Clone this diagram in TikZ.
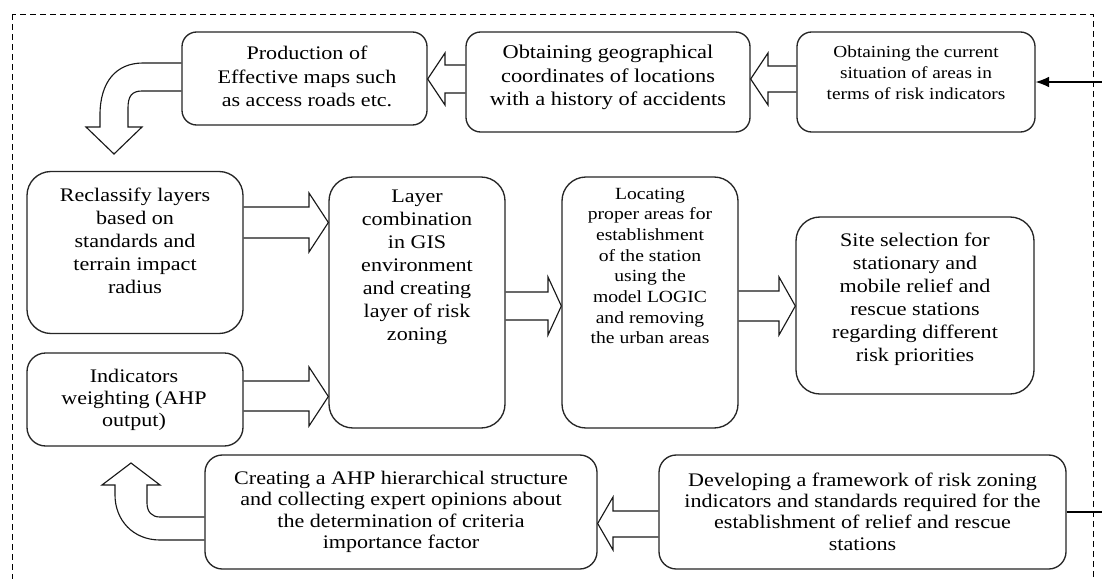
\documentclass[tikz,border=0pt]{standalone}
\usepackage{fontspec}
\setmainfont{Liberation Serif}[FakeStretch=1.15]
\usetikzlibrary{arrows.meta}
\begin{document}
\begin{tikzpicture}[x=0.75pt,y=-0.75pt,
  box/.style={draw=black!85, line width=1pt, rounded corners=#1, inner sep=0pt},
  box/.default=11pt,
  txt/.style={align=center, inner sep=0pt, font=\fontsize{14.4}{17.25}\selectfont},
  barrow/.style={draw=black!90, line width=0.85pt, line join=miter},
  conn/.style={draw=black, line width=0.8pt},
  border/.style={draw=black, line width=0.7pt, dash pattern=on 4.5pt off 3pt}
]
\fill[white] (0,0) rectangle (1102,578);
\useasboundingbox (0,0) rectangle (1102,578);
\draw[border] (12,14) rectangle (1093,600);

% boxes
\node[box, minimum width=183.75pt, minimum height=69.75pt] (prod) at (304.5,78.5) {};
\node[box, minimum width=213pt, minimum height=75pt] (geo) at (608,82) {};
\node[box, minimum width=178.5pt, minimum height=75pt] (cur) at (916,82) {};
\node[box=18pt, minimum width=162pt, minimum height=121.5pt] (recl) at (135,252.5) {};
\node[box=14pt, minimum width=162pt, minimum height=69.75pt] (ind) at (135,399.5) {};
\node[box=18pt, minimum width=132pt, minimum height=188.25pt] (layer) at (417,302.5) {};
\node[box=18pt, minimum width=132pt, minimum height=188.25pt] (loc) at (650,302.5) {};
\node[box=18pt, minimum width=178.5pt, minimum height=132.75pt] (site) at (915,305.5) {};
\node[box=13pt, minimum width=294pt, minimum height=85.5pt] (ahp) at (401,512) {};
\node[box=13pt, minimum width=305.25pt, minimum height=85.5pt] (dev) at (862.5,512) {};

% texts
\node[txt, font=\fontsize{14.4}{17.6}\selectfont] (tprod) at (307,76.5) {Production of\\Effective maps such\\as access roads etc.};
\node[txt, font=\fontsize{14.6}{17.6}\selectfont] (tgeo) at (608,77.5) {Obtaining geographical\\coordinates of locations\\with a history of accidents};
\node[txt, font=\fontsize{12.6}{15.75}\selectfont] (tcur) at (916,73) {Obtaining the current\\situation of areas in\\terms of risk indicators};
\node[txt] (trecl) at (135,241) {Reclassify layers\\based on\\standards and\\terrain impact\\radius};
\node[txt, font=\fontsize{14.4}{16.5}\selectfont] (tind) at (134,400) {Indicators\\weighting (AHP\\output)};
\node[txt] (tlayer) at (417,267.5) {Layer\\combination\\in GIS\\environment\\and creating\\layer of risk\\zoning};
\node[txt, font=\fontsize{12.8}{15.5}\selectfont] (tloc) at (650,266) {Locating\\proper areas for\\establishment\\of the station\\using the\\model LOGIC\\and removing\\the urban areas};
\node[txt] (tsite) at (915,299.5) {Site selection for\\stationary and\\mobile relief and\\rescue stations\\regarding different\\risk priorities};
\node[txt, font=\fontsize{14.4}{16}\selectfont] (tahp) at (401,512) {Creating a AHP hierarchical structure\\and collecting expert opinions about\\the determination of criteria\\importance factor};
\node[txt, font=\fontsize{14.4}{16}\selectfont] (tdev) at (862.5,511.5) {Developing a framework of risk zoning\\indicators and standards required for the\\establishment of relief and rescue\\stations};

% block arrows
\draw[barrow] (cur.west |- 0,66) -- (768,66) -- (768,53) -- (geo.east |- 0,79) -- (768,105) -- (768,92) -- (cur.west |- 0,92);
\draw[barrow] (geo.west |- 0,65) -- (445,65) -- (445,53) -- (prod.east |- 0,79) -- (445,105) -- (445,93) -- (geo.west |- 0,93);
\draw[barrow] (recl.east |- 0,207) -- (309,207) -- (309,193) -- (layer.west |- 0,222.5) -- (309,252) -- (309,238) -- (recl.east |- 0,238);
\draw[barrow] (ind.east |- 0,381) -- (309,381) -- (309,367) -- (layer.west |- 0,396.5) -- (309,426) -- (309,411) -- (ind.east |- 0,411);
\draw[barrow] (layer.east |- 0,292) -- (548,292) -- (548,277) -- (loc.west |- 0,306) -- (548,335) -- (548,320) -- (layer.east |- 0,320);
\draw[barrow] (loc.east |- 0,291) -- (779,291) -- (779,277) -- (site.west |- 0,306) -- (779,335) -- (779,321) -- (loc.east |- 0,321);
\draw[barrow] (dev.west |- 0,511) -- (613,511) -- (613,497) -- (ahp.east |- 0,523.5) -- (613,550) -- (613,537) -- (dev.west |- 0,537);

% curved block arrows
\draw[barrow] (prod.west |- 0,63) -- (143,63) .. controls (116,63) and (100,82) .. (100,115) -- (100,127) -- (86,127) -- (114,154) -- (142,127) -- (128,127) -- (128,108) .. controls (128,96) and (132,91) .. (142,91) -- (prod.west |- 0,91);
\draw[barrow] (ahp.west |- 0,540) -- (160,540) .. controls (133,540) and (115,520) .. (115,495) -- (115,485) -- (102,485) -- (131,463) -- (160,485) -- (147,485) -- (147,503) .. controls (147,512) and (152,517) .. (160,517) -- (ahp.west |- 0,517);

% side connectors
\coordinate (r1) at (1102,512);
\coordinate (r2) at (1102,82);
\draw[conn] (dev.east) -- (r1);
\draw[conn,-{Latex[length=10pt,width=8pt]}] (r2) -- (cur.east);
\end{tikzpicture}
\end{document}
